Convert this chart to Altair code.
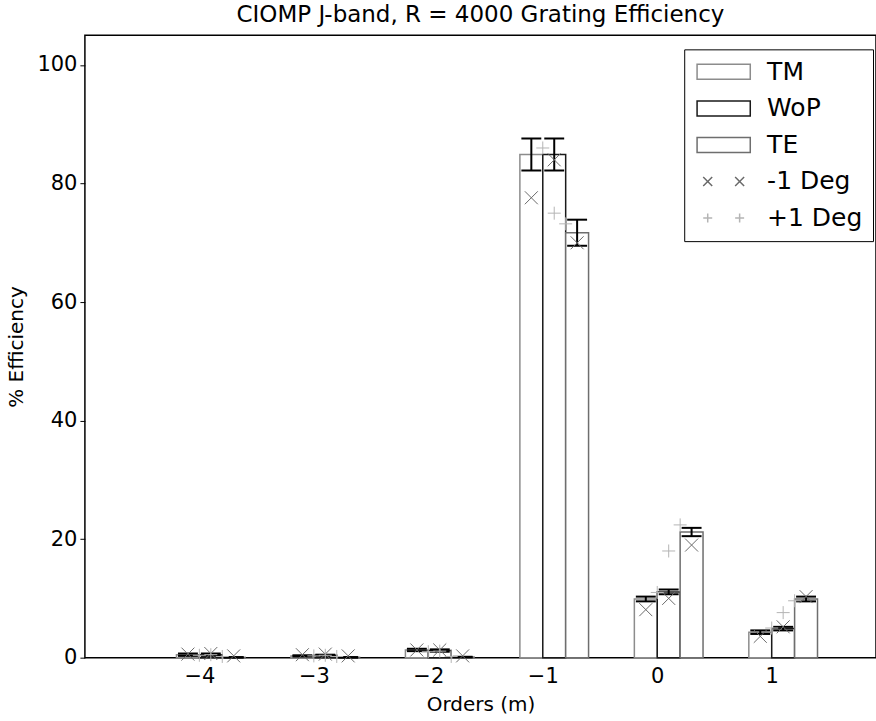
import altair as alt
import pandas as pd

# ---- data ----
orders = [-4, -3, -2, -1, 0, 1]
series_names = ["TM", "WoP", "TE"]

tm_eff = [0.5, 0.3, 1.3, 84.9, 9.9, 4.3]
wop_eff = [0.5, 0.4, 1.2, 84.9, 11.1, 4.9]
te_eff = [0.05, 0.05, 0.1, 71.7, 21.2, 9.9]

tm_err = [0.2, 0.1, 0.2, 2.7, 0.4, 0.3]
wop_err = [0.2, 0.1, 0.2, 2.7, 0.4, 0.3]
te_err = [0.05, 0.05, 0.05, 2.2, 0.7, 0.4]

tm_minus1 = [0.6, 0.5, 1.3, 77.6, 8.1, 3.6]
wop_minus1 = [0.7, 0.6, 1.3, 84.0, 10.0, 5.2]
te_minus1 = [0.3, 0.3, 0.3, 70.0, 19.0, 10.3]

tm_plus1 = [0.4, 0.3, 1.0, 86.0, 11.0, 5.0]
wop_plus1 = [0.5, 0.4, 1.1, 75.0, 18.0, 7.6]
te_plus1 = [0.2, 0.2, 0.2, 73.2, 22.4, 9.6]

legend_labels = ["TM", "WoP", "TE", "-1 Deg", "+1 Deg"]

# ---- build table ----
eff = {"TM": tm_eff, "WoP": wop_eff, "TE": te_eff}
err = {"TM": tm_err, "WoP": wop_err, "TE": te_err}
m1 = {"TM": tm_minus1, "WoP": wop_minus1, "TE": te_minus1}
p1 = {"TM": tm_plus1, "WoP": wop_plus1, "TE": te_plus1}
rows = []
for i, s in enumerate(series_names):
    for j, o in enumerate(orders):
        rows.append(dict(order=o, series=s, idx=i, value=eff[s][j], err=err[s][j],
                         m1=m1[s][j], p1=p1[s][j]))
df = pd.DataFrame(rows)

# ---- styling ----
FONT = "DejaVu Sans"
BAR_W = 0.2
CAP_HALF = 0.087
legend_colors = ["#8c8c8c", "#1a1a1a", "#6e6e6e", "#6a6a6a", "#b4b4b4"]
RECT = "M-3.55,-1H3.55V1H-3.55Z"
XX = "M-2.73,-0.6L-1.53,0.6M-2.73,0.6L-1.53,-0.6M1.53,-0.6L2.73,0.6M1.53,0.6L2.73,-0.6"
PP = "M-2.73,0H-1.53M-2.13,-0.6V0.6M1.53,0H2.73M2.13,-0.6V0.6"
X_MARK = "M-1,-1L1,1M-1,1L1,-1"
P_MARK = "M-1,0L1,0M0,-1L0,1"

xs = alt.Scale(domain=[-5, 1.911], nice=False, zero=False)
ys = alt.Scale(domain=[0, 105], nice=False, zero=False)
stroke_scale = alt.Scale(domain=legend_labels, range=legend_colors)
shape_scale = alt.Scale(domain=legend_labels, range=[RECT, RECT, RECT, XX, PP])

xaxis = alt.Axis(values=orders, format="d", grid=False, domain=False, ticks=False,
                 labelExpr="replace(datum.label, '-', '\u2212')",
                 labelFontSize=21, labelFont=FONT, labelColor="black", labelPadding=8,
                 titleFontSize=20, titleFont=FONT, titleFontWeight="normal",
                 titleColor="black", titlePadding=8)
yaxis = alt.Axis(values=[0, 20, 40, 60, 80, 100], grid=False, domain=False,
                 tickSize=5, tickColor="black", labelPadding=3,
                 labelFontSize=21, labelFont=FONT, labelColor="black",
                 titleFontSize=20, titleFont=FONT, titleFontWeight="normal",
                 titleColor="black", titlePadding=10)

leg = alt.Legend(title=None, orient="none", legendX=600, legendY=14,
                 symbolSize=225, symbolStrokeWidth=1.5, symbolOffset=17,
                 labelOffset=31, labelFontSize=25, labelFont=FONT, labelColor="black",
                 padding=10, strokeColor="black", fillColor="white", rowPadding=10.6,
                 symbolOpacity=1, symbolFillColor="transparent")

base = alt.Chart(df).transform_calculate(
    left=f"datum.order + (datum.idx - 1) * {BAR_W}",
    right=f"datum.order + datum.idx * {BAR_W}",
    center=f"datum.order + (datum.idx - 0.5) * {BAR_W}",
    pcenter=f"datum.order + datum.idx * {BAR_W / 2}",
    capl=f"datum.order + (datum.idx - 0.5) * {BAR_W} - {CAP_HALF}",
    capr=f"datum.order + (datum.idx - 0.5) * {BAR_W} + {CAP_HALF}",
    hi="datum.value + datum.err",
    lo="datum.value - datum.err",
)

bars = base.mark_bar(fill="white", strokeWidth=1.5).encode(
    x=alt.X("left:Q", scale=xs, axis=xaxis, title="Orders (m)"),
    x2="right:Q",
    y=alt.Y("value:Q", scale=ys, axis=yaxis, title="% Efficiency"),
    y2=alt.datum(0),
    stroke=alt.Stroke("series:N", scale=stroke_scale, legend=leg),
)

err_v = base.mark_rule(color="black", strokeWidth=2).encode(
    x="center:Q", y="lo:Q", y2="hi:Q")
cap_top = base.mark_rule(color="black", strokeWidth=2).encode(
    x="capl:Q", x2="capr:Q", y="hi:Q")
cap_bot = base.mark_rule(color="black", strokeWidth=2).encode(
    x="capl:Q", x2="capr:Q", y="lo:Q")

minus_pts = base.mark_point(shape=X_MARK, size=169, filled=False, stroke="#6a6a6a",
                            strokeWidth=1, opacity=1).encode(x="center:Q", y="m1:Q")
plus_pts = base.mark_point(shape=P_MARK, size=169, filled=False, stroke="#b4b4b4",
                           strokeWidth=1, opacity=1).encode(x="pcenter:Q", y="p1:Q")

legend_df = pd.DataFrame({"series": legend_labels})
legend_layer = alt.Chart(legend_df).mark_point(opacity=0, filled=False).encode(
    stroke=alt.Stroke("series:N", scale=stroke_scale, legend=leg),
    shape=alt.Shape("series:N", scale=shape_scale, legend=leg),
)

chart = alt.layer(bars, err_v, cap_top, cap_bot, minus_pts, plus_pts, legend_layer).properties(
    width=792, height=623,
    background="white",
    autosize=alt.AutoSizeParams(type="none"),
    padding={"left": 85, "top": 35, "right": 0, "bottom": 63},
    title=alt.TitleParams("CIOMP J-band, R = 4000 Grating Efficiency", fontSize=23,
                          font=FONT, fontWeight="normal", color="black", offset=8,
                          anchor="middle"),
).configure_view(stroke="black", strokeWidth=1.5)

chart.save("out.html", embed_options={"renderer": "svg", "actions": False})
